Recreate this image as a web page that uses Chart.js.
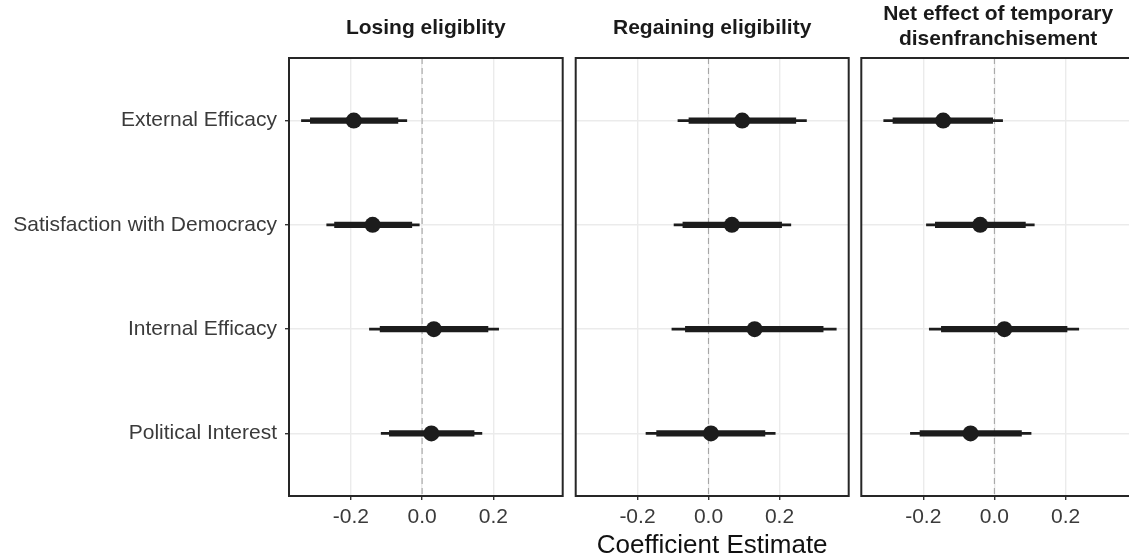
<!DOCTYPE html>
<html>
<head>
<meta charset="utf-8">
<script src="https://cdn.jsdelivr.net/npm/chart.js@4.4.1/dist/chart.umd.min.js"></script>
<style>
  html, body { margin: 0; padding: 0; background: #ffffff; }
  body { width: 1129px; height: 559px; overflow: hidden; position: relative; }
  canvas { position: absolute; top: 0; }
</style>
</head>
<body>
<canvas id="c1" width="570" height="559" style="left:0px;width:570px;height:559px"></canvas>
<canvas id="c2" width="285" height="559" style="left:570px;width:285px;height:559px"></canvas>
<canvas id="c3" width="290" height="559" style="left:855px;width:290px;height:559px"></canvas>
<script>
// ---------------- data ----------------
const categories = ["External Efficacy", "Satisfaction with Democracy", "Internal Efficacy", "Political Interest"];
const xTicks = [-0.2, 0.0, 0.2];
const xTitle = "Coefficient Estimate";
const panelTitles = [["Losing eligiblity"], ["Regaining eligibility"], ["Net effect of temporary", "disenfranchisement"]];

// Losing eligibility
const losingEst  = [-0.192, -0.139, 0.033, 0.026];
const losingLo90 = [-0.314, -0.246, -0.118, -0.092];
const losingHi90 = [-0.068, -0.029, 0.185, 0.146];
const losingLo95 = [-0.339, -0.268, -0.148, -0.115];
const losingHi95 = [-0.043, -0.008, 0.215, 0.168];

// Regaining eligibility
const regainEst  = [0.095, 0.066, 0.130, 0.007];
const regainLo90 = [-0.055, -0.072, -0.065, -0.146];
const regainHi90 = [0.246, 0.206, 0.323, 0.159];
const regainLo95 = [-0.086, -0.097, -0.103, -0.176];
const regainHi95 = [0.276, 0.232, 0.360, 0.188];

// Net effect
const netEst  = [-0.144, -0.040, 0.028, -0.067];
const netLo90 = [-0.285, -0.166, -0.149, -0.209];
const netHi90 = [-0.005, 0.087, 0.204, 0.076];
const netLo95 = [-0.311, -0.191, -0.183, -0.236];
const netHi95 = [0.023, 0.112, 0.237, 0.103];

const xMin = -0.374, xMax = 0.395;

// ---------------- style ----------------
const FONT = "'Liberation Sans', Arial, Helvetica, sans-serif";
const INK = '#1c1c1c';
const AXIS_TEXT = '#3a3a3a';

const panelDecor = {
  id: 'panelDecor',
  beforeDatasetsDraw(chart) {
    const {ctx, chartArea: a, scales: {x}} = chart;
    const px = x.getPixelForValue(0);
    ctx.save();
    ctx.strokeStyle = '#a6a6a6';
    ctx.lineWidth = 1.1;
    ctx.setLineDash([6, 4]);
    ctx.beginPath();
    ctx.moveTo(px, a.top);
    ctx.lineTo(px, a.bottom);
    ctx.stroke();
    ctx.restore();
  },
  afterDraw(chart, args, opts) {
    const {ctx, chartArea: a} = chart;
    ctx.save();
    ctx.strokeStyle = '#262626';
    ctx.lineWidth = 2;
    ctx.strokeRect(a.left, a.top, a.right - a.left, a.bottom - a.top);
    // strip title
    const lines = opts.text || [];
    ctx.fillStyle = '#1a1a1a';
    ctx.font = 'bold 21px ' + FONT;
    ctx.textAlign = 'center';
    ctx.textBaseline = 'middle';
    const cx = (a.left + a.right) / 2;
    if (lines.length === 1) {
      ctx.fillText(lines[0], cx, 28);
    } else {
      lines.forEach((t, i) => ctx.fillText(t, cx, 14 + i * 25));
    }
    ctx.restore();
  }
};

function makePanel(id, title, est, lo90, hi90, lo95, hi95, opts) {
  const pointsData = est.map((v, i) => ({x: v, y: i + 1}));
  const thickData = lo90.map((v, i) => ({x: [v, hi90[i]], y: i + 1}));
  const thinData = lo95.map((v, i) => ({x: [v, hi95[i]], y: i + 1}));
  return new Chart(document.getElementById(id), {
    type: 'bar',
    data: {
      datasets: [
        {type: 'scatter', data: pointsData, backgroundColor: INK, borderWidth: 0,
         pointRadius: 8, pointHoverRadius: 8, showLine: false, order: 0},
        {type: 'bar', data: thickData, backgroundColor: INK, borderWidth: 0,
         barThickness: 5.5, grouped: false, order: 1},
        {type: 'bar', data: thinData, backgroundColor: INK, borderWidth: 0,
         barThickness: 2, grouped: false, order: 2}
      ]
    },
    options: {
      indexAxis: 'y',
      responsive: false,
      animation: false,
      devicePixelRatio: 1,
      layout: {autoPadding: false, padding: {top: 58, left: opts.padLeft, right: opts.padRight, bottom: 0}},
      plugins: {
        legend: {display: false},
        tooltip: {enabled: false},
        panelDecor: {text: title}
      },
      scales: {
        x: {
          type: 'linear',
          min: xMin, max: xMax,
          offset: false,
          afterBuildTicks: (s) => { s.ticks = xTicks.map(v => ({value: v})); },
          afterFit: (s) => { s.height = 63; s.paddingLeft = 0; s.paddingRight = 0; },
          grid: {color: '#ebebeb', lineWidth: 1.4, tickColor: '#333333', tickLength: 4, drawTicks: true, offset: false},
          border: {display: false},
          ticks: {
            autoSkip: false, maxRotation: 0, minRotation: 0, padding: 5,
            color: AXIS_TEXT, font: {family: FONT, size: 21},
            callback: (v) => Number(v).toFixed(1)
          },
          title: {
            display: opts.showXTitle, text: xTitle, color: '#111111',
            font: {family: FONT, size: 26, lineHeight: 1.0}, padding: {top: 0, bottom: 0}
          }
        },
        y: {
          type: 'linear',
          min: 0.4, max: 4.6, reverse: true,
          offset: false,
          afterBuildTicks: (s) => { s.ticks = categories.map((c, i) => ({value: i + 1})); },
          afterFit: (s) => { s.width = opts.yWidth; s.paddingTop = 0; s.paddingBottom = 0; },
          grid: {color: '#ebebeb', lineWidth: 1.4, tickColor: '#333333', tickLength: 4,
                 drawTicks: opts.showYLabels, offset: false},
          border: {display: false},
          ticks: {
            display: opts.showYLabels, autoSkip: false, padding: 8,
            color: AXIS_TEXT, font: {family: FONT, size: 21},
            callback: (v) => categories[Math.round(v) - 1]
          }
        }
      }
    },
    plugins: [panelDecor]
  });
}

makePanel('c1', panelTitles[0], losingEst, losingLo90, losingHi90, losingLo95, losingHi95,
  {padLeft: 0, padRight: 7.3, yWidth: 289, showYLabels: true, showXTitle: false});
makePanel('c2', panelTitles[1], regainEst, regainLo90, regainHi90, regainLo95, regainHi95,
  {padLeft: 5.7, padRight: 6.3, yWidth: 0, showYLabels: false, showXTitle: true});
makePanel('c3', panelTitles[2], netEst, netLo90, netHi90, netLo95, netHi95,
  {padLeft: 6.3, padRight: 10, yWidth: 0, showYLabels: false, showXTitle: false});
</script>
</body>
</html>
